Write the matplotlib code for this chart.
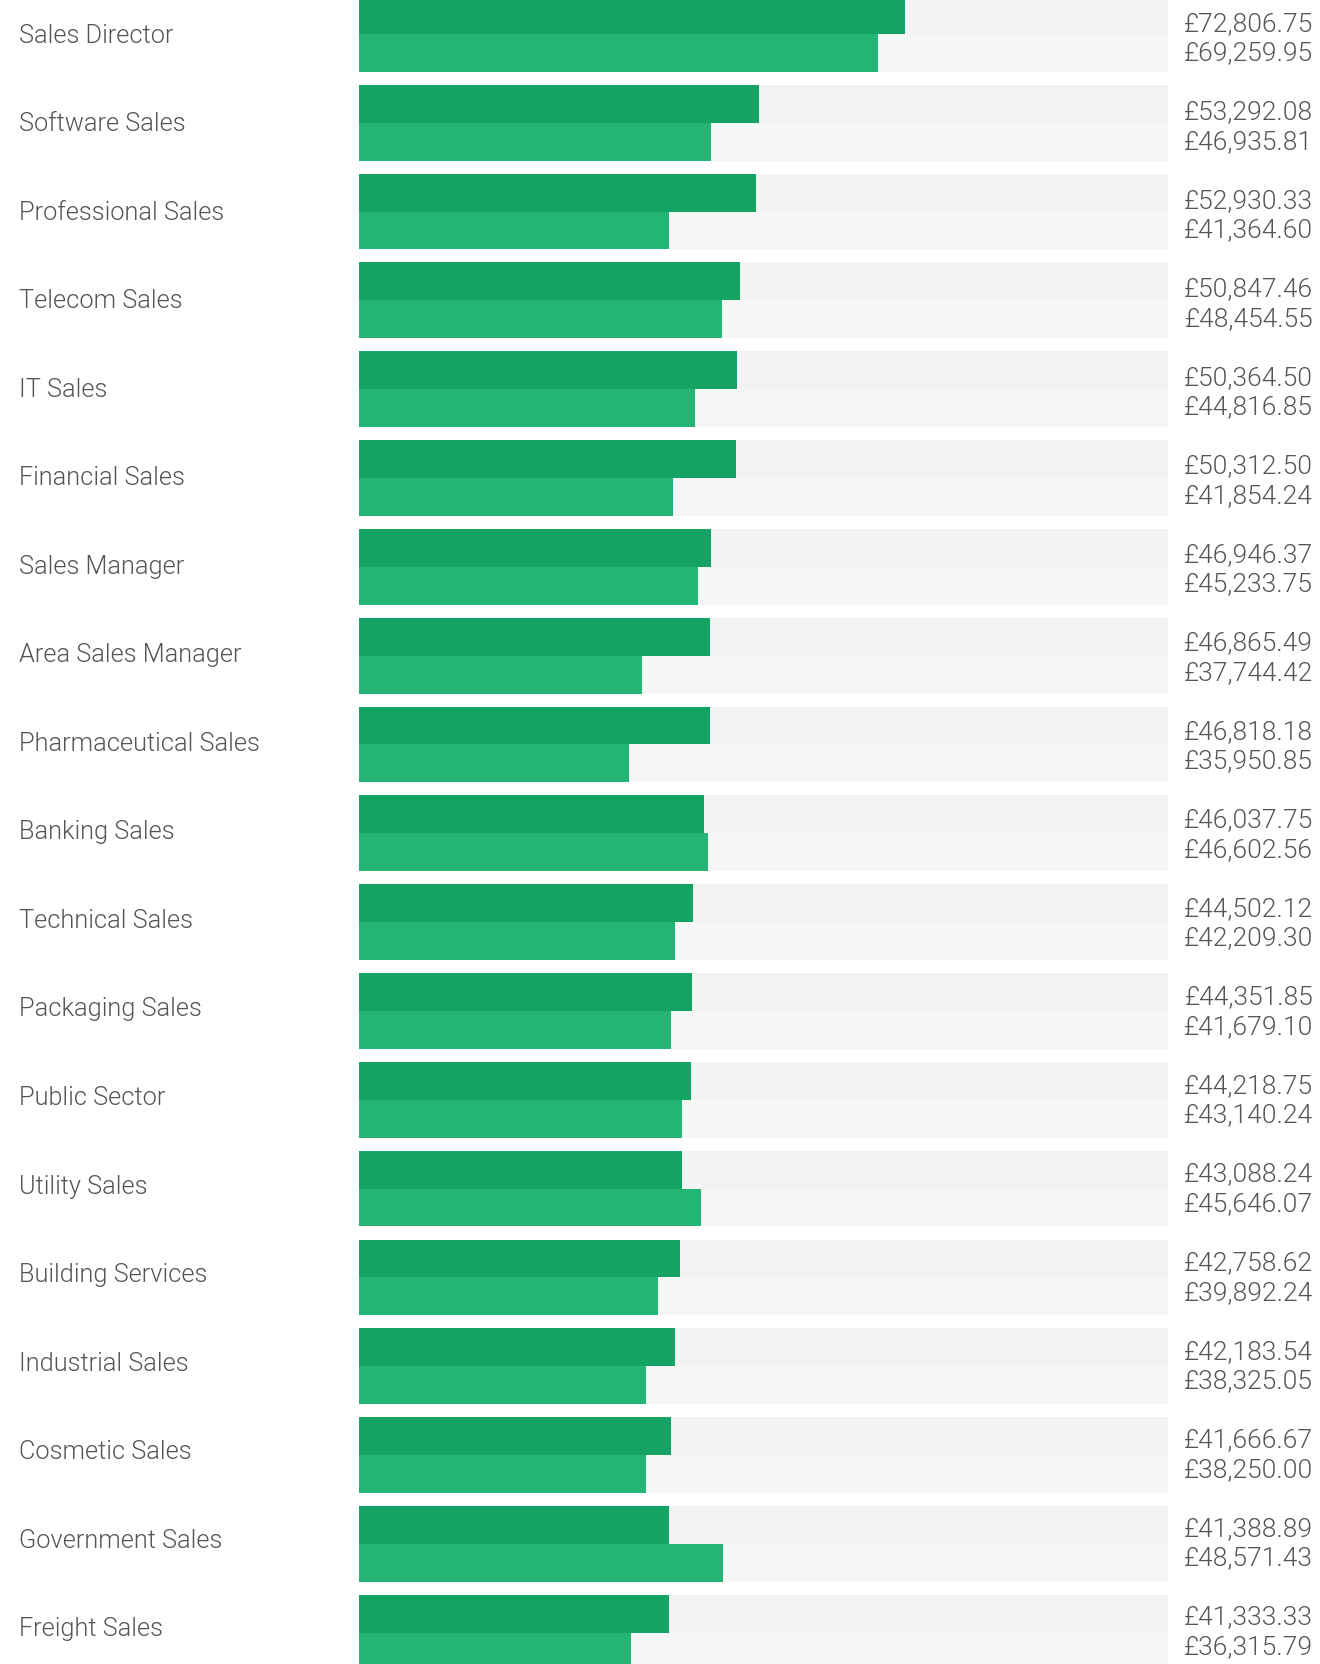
import matplotlib
matplotlib.use("Agg")
import matplotlib.pyplot as plt
import matplotlib.transforms as mtransforms

categories = ["Sales Director", "Software Sales", "Professional Sales", "Telecom Sales",
              "IT Sales", "Financial Sales", "Sales Manager", "Area Sales Manager",
              "Pharmaceutical Sales", "Banking Sales", "Technical Sales", "Packaging Sales",
              "Public Sector", "Utility Sales", "Building Services", "Industrial Sales",
              "Cosmetic Sales", "Government Sales", "Freight Sales"]
series_a = [72806.75, 53292.08, 52930.33, 50847.46, 50364.50, 50312.50, 46946.37,
            46865.49, 46818.18, 46037.75, 44502.12, 44351.85, 44218.75, 43088.24,
            42758.62, 42183.54, 41666.67, 41388.89, 41333.33]
series_b = [69259.95, 46935.81, 41364.60, 48454.55, 44816.85, 41854.24, 45233.75,
            37744.42, 35950.85, 46602.56, 42209.30, 41679.10, 43140.24, 45646.07,
            39892.24, 38325.05, 38250.00, 48571.43, 36315.79]
axis_max = 107900

W, H = 1320, 1665
fig = plt.figure(figsize=(W / 100, H / 100), dpi=100)
fig.patch.set_facecolor("white")

pitch = 88.83
top_px = 34.85
y0 = -top_px / pitch
y1 = (H - top_px) / pitch

ax = fig.add_axes([359 / W, 0, 809 / W, 1])
ax.set_xlim(0, axis_max)
ax.set_ylim(y1, y0)
ax.axis("off")

bh = 37.85 / pitch
pos = list(range(len(categories)))
ya = [p - bh / 2 for p in pos]
yb = [p + bh / 2 for p in pos]

ax.barh(ya, [axis_max] * len(pos), height=bh, color="#f1f4f3", linewidth=0)
ax.barh(yb, [axis_max] * len(pos), height=bh, color="#f5f7f6", linewidth=0)
ax.barh(ya, series_a, height=bh, color="#15a363", linewidth=0)
ax.barh(yb, series_b, height=bh, color="#24b574", linewidth=0)

trans = mtransforms.blended_transform_factory(fig.transFigure, ax.transData)
txtcol = "#555555"
fam = ["Roboto", "DejaVu Sans"]
drift = 0.31  # text rows sit on a slightly tighter pitch than the bars
for p, cat, a, b in zip(pos, categories, series_a, series_b):
    d = -drift * (p - 1)
    ax.text(19 / W, p + (7.6 + d) / pitch, cat, transform=trans, ha="left", va="baseline",
            fontsize=18.3, color=txtcol, family=fam, fontweight=300)
    ax.text(1313 / W, p + (-4.3 + d) / pitch, f"£{a:,.2f}", transform=trans, ha="right",
            va="baseline", fontsize=19, color=txtcol, family=fam, fontweight=300)
    ax.text(1313 / W, p + (25.2 + d) / pitch, f"£{b:,.2f}", transform=trans, ha="right",
            va="baseline", fontsize=19, color=txtcol, family=fam, fontweight=300)

fig.savefig("out.png", dpi=100, facecolor="white")
